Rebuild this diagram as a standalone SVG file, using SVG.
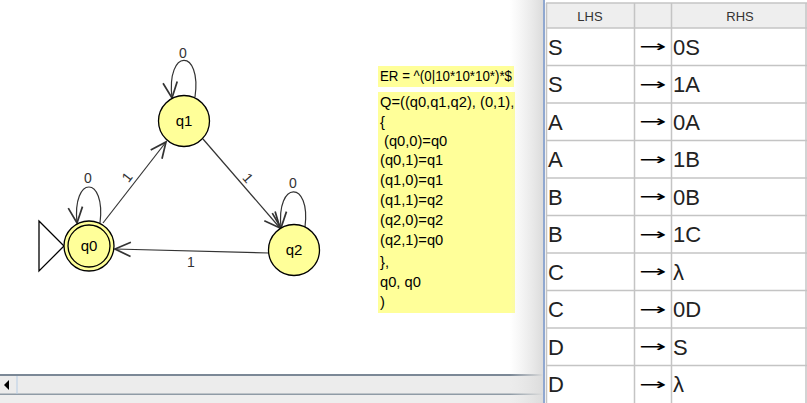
<svg xmlns="http://www.w3.org/2000/svg" width="807" height="403" viewBox="0 0 807 403">
<defs>
<marker id="ah" markerUnits="userSpaceOnUse" markerWidth="20" markerHeight="20" refX="12" refY="6" orient="auto" viewBox="0 0 14 12">
<path d="M1,1 L12,6 L1,11" fill="none" stroke="#333" stroke-width="1.2"/>
</marker>
<linearGradient id="shade" x1="0" y1="0" x2="1" y2="0">
<stop offset="0" stop-color="#e4e4e4" stop-opacity="0"/>
<stop offset="1" stop-color="#dcdcdc" stop-opacity="1"/>
</linearGradient>
</defs>
<style>
.st{fill:#ffff99;stroke:#000;stroke-width:1.3}
.sl{font-family:"Liberation Sans",Arial,sans-serif;font-size:15px;fill:#000;text-anchor:middle}
.el{font-family:"Liberation Sans",Arial,sans-serif;font-size:14px;fill:#333;text-anchor:middle}
.ed{fill:none;stroke:#333;stroke-width:1.2;marker-end:url(#ah)}
.tx{font-family:"Liberation Sans",Arial,sans-serif;font-size:14.7px;fill:#000}
.cell{font-family:"Liberation Sans",Arial,sans-serif;font-size:22px;fill:#222}
.hd{font-family:"Liberation Sans",Arial,sans-serif;font-size:13px;fill:#333;text-anchor:middle}
.arr{font-family:"DejaVu Sans",sans-serif;font-size:16px;fill:#000}
.grid{stroke:#c4c4c4;stroke-width:1.5}
</style>
<rect x="0" y="0" width="807" height="403" fill="#fff"/>

<g id="connectors">
<path class="ed" d="M103,223 L166,142"/>
<path class="ed" d="M203,139 L280,228"/>
<path class="ed" d="M269,253 L115,249"/>
<path class="ed" d="M195,97 C202,48 166,48 172,98"/>
<path class="ed" d="M100,223 C106,175 72,175 77,223"/>
<path class="ed" d="M305,227 C311,180 276,180 281,228"/>
<text class="el" transform="translate(127,177) rotate(-52)" y="5">1</text>
<text class="el" transform="translate(248,178) rotate(49)" y="5">1</text>
<text class="el" x="191" y="267">1</text>
<text class="el" x="183" y="58">0</text>
<text class="el" x="88" y="183">0</text>
<text class="el" x="293" y="188">0</text>
</g>

<g id="q0">
<polygon points="39,221 64,246 39,271" fill="#fff" stroke="#000" stroke-width="1.3"/>
<circle class="st" cx="89" cy="246" r="25"/>
<circle cx="89" cy="246" r="21" fill="none" stroke="#000" stroke-width="1.3"/>
<text class="sl" x="89" y="251">q0</text>
</g>
<g id="q1">
<circle class="st" cx="184" cy="121" r="25.5"/>
<text class="sl" x="184" y="126">q1</text>
</g>
<g id="q2">
<circle class="st" cx="294" cy="250" r="25.5"/>
<text class="sl" x="294" y="255">q2</text>
</g>

<g id="er-note">
<rect x="378" y="66" width="136" height="21" fill="#ffff99"/>
<text class="tx" x="380" y="81" textLength="132" lengthAdjust="spacingAndGlyphs">ER = ^(0|10*10*10*)*$</text>
</g>
<g id="q-note">
<rect x="378" y="92" width="137" height="221" fill="#ffff99"/>
<text class="tx" x="380" y="107">Q=((q0,q1,q2), (0,1),</text>
<text class="tx" x="380" y="127">{</text>
<text class="tx" x="384" y="146">(q0,0)=q0</text>
<text class="tx" x="380" y="165">(q0,1)=q1</text>
<text class="tx" x="380" y="185">(q1,0)=q1</text>
<text class="tx" x="380" y="205">(q1,1)=q2</text>
<text class="tx" x="380" y="225">(q2,0)=q2</text>
<text class="tx" x="380" y="245">(q2,1)=q0</text>
<text class="tx" x="380" y="267">},</text>
<text class="tx" x="380" y="287">q0, q0</text>
<text class="tx" x="380" y="307">)</text>
</g>

<g id="scrollbar">
<rect x="0" y="374" width="545" height="2" fill="#7b8896"/>
<rect x="0" y="376" width="545" height="18" fill="#ececec"/>
<rect x="0" y="393.5" width="545" height="1.5" fill="#8f9ba6"/>
<rect x="0" y="395" width="545" height="8" fill="#eeeeee"/>
<rect x="16.5" y="376" width="1" height="18" fill="#b8cde6"/>
<polygon points="9,380 9,390 4,385" fill="#000"/>
</g>
<rect x="510" y="0" width="33" height="403" fill="url(#shade)"/>
<rect x="543" y="0" width="2" height="403" fill="#90a8d0"/>

<g id="table">
<rect x="546" y="0" width="261" height="403" fill="#fff"/>
<rect x="546" y="3" width="261" height="25" fill="#eeeeee"/>
<line class="grid" x1="546" y1="3" x2="807" y2="3"/>
<line class="grid" x1="546.5" y1="3" x2="546.5" y2="403"/>
<line class="grid" x1="634.5" y1="3" x2="634.5" y2="403"/>
<line class="grid" x1="671.5" y1="3" x2="671.5" y2="403"/>
<line class="grid" x1="806" y1="3" x2="806" y2="403"/>
<line class="grid" x1="546" y1="28" x2="807" y2="28"/>
<line class="grid" x1="546" y1="65.5" x2="807" y2="65.5"/>
<line class="grid" x1="546" y1="103" x2="807" y2="103"/>
<line class="grid" x1="546" y1="140.5" x2="807" y2="140.5"/>
<line class="grid" x1="546" y1="178" x2="807" y2="178"/>
<line class="grid" x1="546" y1="215.5" x2="807" y2="215.5"/>
<line class="grid" x1="546" y1="253" x2="807" y2="253"/>
<line class="grid" x1="546" y1="290.5" x2="807" y2="290.5"/>
<line class="grid" x1="546" y1="328" x2="807" y2="328"/>
<line class="grid" x1="546" y1="365.5" x2="807" y2="365.5"/>
<text class="hd" x="590" y="21">LHS</text>
<text class="hd" x="740" y="21">RHS</text>

<text class="cell" x="548" y="54.5">S</text>
<text class="cell" x="548" y="92">S</text>
<text class="cell" x="548" y="129.5">A</text>
<text class="cell" x="548" y="167">A</text>
<text class="cell" x="548" y="204.5">B</text>
<text class="cell" x="548" y="242">B</text>
<text class="cell" x="548" y="279.5">C</text>
<text class="cell" x="548" y="317">C</text>
<text class="cell" x="548" y="354.5">D</text>
<text class="cell" x="548" y="392">D</text>

<text class="arr" transform="translate(639,52) scale(2.05,1)">→</text>
<text class="arr" transform="translate(639,89.5) scale(2.05,1)">→</text>
<text class="arr" transform="translate(639,127) scale(2.05,1)">→</text>
<text class="arr" transform="translate(639,164.5) scale(2.05,1)">→</text>
<text class="arr" transform="translate(639,202) scale(2.05,1)">→</text>
<text class="arr" transform="translate(639,239.5) scale(2.05,1)">→</text>
<text class="arr" transform="translate(639,277) scale(2.05,1)">→</text>
<text class="arr" transform="translate(639,314.5) scale(2.05,1)">→</text>
<text class="arr" transform="translate(639,352) scale(2.05,1)">→</text>
<text class="arr" transform="translate(639,389.5) scale(2.05,1)">→</text>

<text class="cell" x="673" y="54.5">0S</text>
<text class="cell" x="673" y="92">1A</text>
<text class="cell" x="673" y="129.5">0A</text>
<text class="cell" x="673" y="167">1B</text>
<text class="cell" x="673" y="204.5">0B</text>
<text class="cell" x="673" y="242">1C</text>
<text class="cell" x="673" y="279.5">λ</text>
<text class="cell" x="673" y="317">0D</text>
<text class="cell" x="673" y="354.5">S</text>
<text class="cell" x="673" y="392">λ</text>
</g>
</svg>
